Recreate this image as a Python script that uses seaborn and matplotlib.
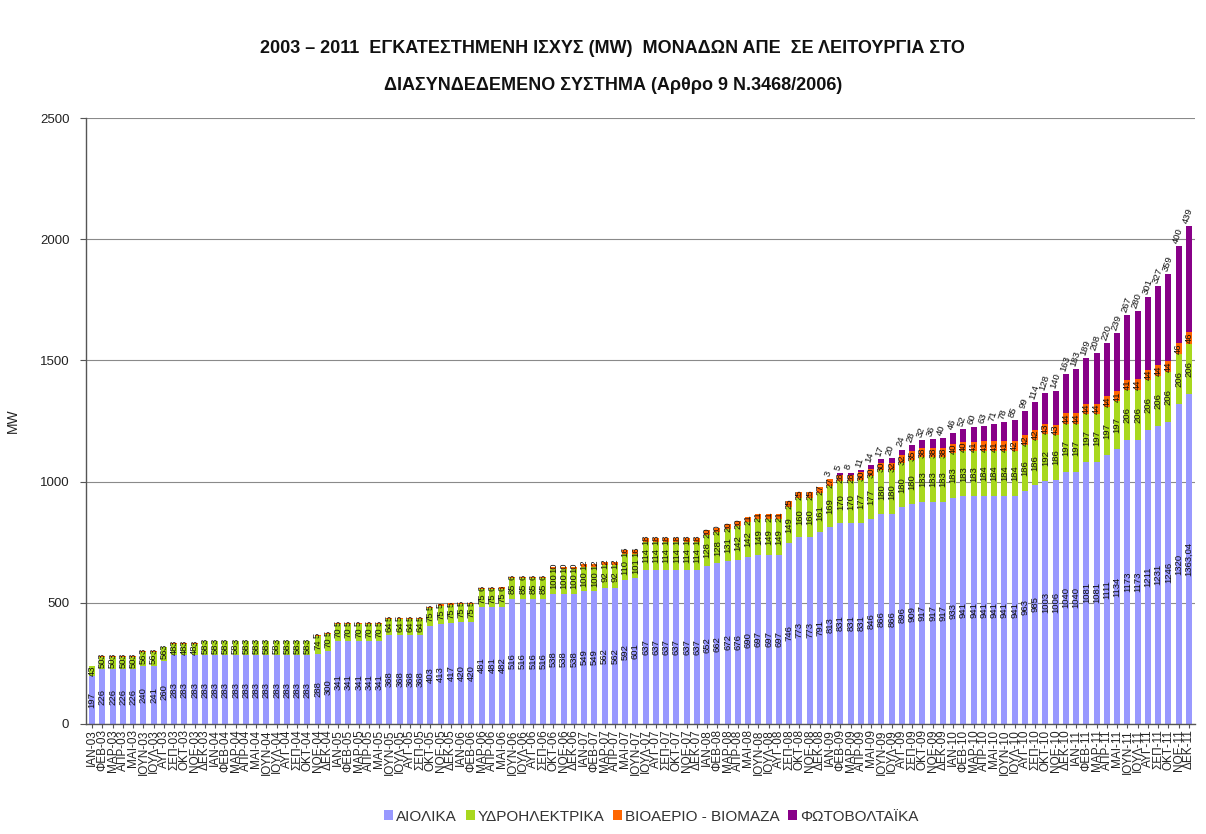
import matplotlib
matplotlib.use("Agg")
import matplotlib.pyplot as plt
from matplotlib.patches import Patch
import numpy as np
import pandas as pd
import seaborn as sns

# ---------------- data ----------------
months = ['ΙΑΝ', 'ΦΕΒ', 'ΜΑΡ', 'ΑΠΡ', 'ΜΑΙ', 'ΙΟΥΝ', 'ΙΟΥΛ', 'ΑΥΓ', 'ΣΕΠ', 'ΟΚΤ', 'ΝΟΕ', 'ΔΕΚ']
years = ['03', '04', '05', '06', '07', '08', '09', '10', '11']
labels = [f'{m}-{y}' for y in years for m in months]

wind = ([197] + [226] * 4 + [240, 241, 260] + [283] * 14 + [288, 300] + [341] * 5 + [368] * 4 +
        [403, 413, 417, 420, 420] + [481, 481, 482] + [516] * 4 + [538] * 3 + [549, 549, 562, 562] +
        [592, 601] + [637] * 6 + [652, 662, 672, 676] + [690, 697, 697, 697] +
        [746, 773, 773, 791, 813] + [831, 831, 831, 846, 866, 866, 896] +
        [909, 917, 917, 917, 933] + [941] * 6 +
        [963, 985, 1003, 1006, 1040, 1040, 1081, 1081, 1111, 1134, 1173, 1173, 1211, 1231, 1246, 1320, 1363.04])

hydro = ([43] + [50] * 4 + [56] * 3 + [48] * 3 + [58] * 11 + [74, 70] + [70] * 5 + [64] * 4 +
         [75] * 5 + [75] * 3 + [85] * 4 + [100] * 3 + [100, 100, 92, 92] + [110, 101] + [114] * 6 +
         [128, 128, 131, 142] + [142, 149, 149, 149] + [149, 160, 160, 161, 169] +
         [170, 170, 177, 177, 180, 180, 180] + [180, 183, 183, 183, 183] + [183, 183, 184, 184, 184, 184] +
         [186, 186, 192, 186] + [197] * 6 + [206] * 7)

bio = ([0] + [3] * 21 + [5] * 16 + [6] * 7 + [10] * 3 + [12] * 4 + [16] * 2 + [18] * 6 +
       [20] * 4 + [21] * 4 + [25] * 3 + [27] * 2 + [28] * 2 + [30] * 3 + [32] * 2 +
       [35, 38, 38, 38] + [40, 40] + [41] * 4 + [42] * 3 + [43] * 2 + [44] * 5 + [41] * 2 +
       [44] * 4 + [46] * 2)

pv = ([0] * 72 + [3, 5, 8, 11, 14, 17, 20, 24, 28, 32, 36, 40, 46, 52, 60, 63, 71, 78, 85, 99,
                  114, 128, 140, 163, 183, 189, 208, 220, 239, 267, 280, 301, 327, 359, 400, 439])

series_names = ['ΑΙΟΛΙΚΑ', 'ΥΔΡΟΗΛΕΚΤΡΙΚΑ', 'ΒΙΟΑΕΡΙΟ - ΒΙΟΜΑΖΑ', 'ΦΩΤΟΒΟΛΤΑΪΚΑ']
colors = ['#9999FF', '#A8D81E', '#FF6600', '#880088']

title1 = '2003 – 2011  ΕΓΚΑΤΕΣΤΗΜΕΝΗ ΙΣΧΥΣ (MW)  ΜΟΝΑΔΩΝ ΑΠΕ  ΣΕ ΛΕΙΤΟΥΡΓΙΑ ΣΤΟ'
title2 = 'ΔΙΑΣΥΝΔΕΔΕΜΕΝΟ ΣΥΣΤΗΜΑ (Αρθρο 9 Ν.3468/2006)'

# ---------------- build ----------------
df = pd.DataFrame({'month': labels, 'wind': wind, 'hydro': hydro, 'bio': bio, 'pv': pv})
df['c1'] = df['wind']
df['c2'] = df['c1'] + df['hydro']
df['c3'] = df['c2'] + df['bio']
df['c4'] = df['c3'] + df['pv']

sns.set_theme(style='white')
plt.rcParams['font.family'] = ['Liberation Sans', 'DejaVu Sans']

fig = plt.figure(figsize=(12.06, 8.34), dpi=100)
ax = fig.add_axes([0.0713, 0.132, 0.9196, 0.7265])

for col, colr in [('c4', colors[3]), ('c3', colors[2]), ('c2', colors[1]), ('c1', colors[0])]:
    sns.barplot(data=df, x='month', y=col, order=labels, color=colr, saturation=1,
                width=0.6, errorbar=None, linewidth=0, ax=ax)

ax.set_xlim(-0.6, len(labels) - 0.4)
ax.set_ylim(0, 2500)
ax.set_yticks(np.arange(0, 2501, 500))
ax.yaxis.grid(True, color='#8a8a8a', lw=0.8)
ax.set_axisbelow(True)
for s in ['top', 'right']:
    ax.spines[s].set_visible(False)
for s in ['left', 'bottom']:
    ax.spines[s].set_color('#555555')
    ax.spines[s].set_linewidth(1.0)

ax.set_xticks(range(len(labels)))
ax.set_xticklabels(labels, rotation=90, fontsize=8.5, color='#222222')
ax.tick_params(axis='x', bottom=True, length=3, width=0.8, pad=1, color='#555555')
ax.tick_params(axis='y', left=True, length=4, width=0.8, labelsize=9.5, color='#555555',
               labelcolor='#222222', pad=8)
ax.set_xlabel('')
ax.set_ylabel('MW', fontsize=10, color='#222222', labelpad=14)


def fmt(v):
    v = float(v)
    return f'{v:.0f}' if v.is_integer() else f'{v:.2f}'.replace('.', ',')


lab_fs = 6.8
for i, r in df.iterrows():
    ax.text(i, r['wind'] / 2, fmt(r['wind']), rotation=90, ha='center', va='center',
            fontsize=lab_fs, color='#111111')
    ax.text(i, r['c1'] + r['hydro'] / 2, fmt(r['hydro']), rotation=90, ha='center', va='center',
            fontsize=lab_fs, color='#111111')
    if r['bio'] > 0:
        ax.text(i, r['c2'] + r['bio'] / 2, fmt(r['bio']), rotation=90, ha='center', va='center',
                fontsize=lab_fs, color='#111111')
    if r['pv'] > 0:
        ax.text(i - 0.3, r['c4'] + 12, fmt(r['pv']), rotation=72, rotation_mode='anchor',
                ha='left', va='center', fontsize=lab_fs, color='#111111')

fig.text(0.508, 0.9424, title1, ha='center', va='center', fontsize=13, fontweight='bold',
         color='#111111')
fig.text(0.508, 0.898, title2, ha='center', va='center', fontsize=13, fontweight='bold',
         color='#111111')

handles = [Patch(facecolor=c, edgecolor='none') for c in colors]
fig.legend(handles, series_names, loc='lower center', bbox_to_anchor=(0.54, -0.004), ncol=4,
           frameon=False, fontsize=11, handlelength=0.6, handleheight=0.6, handletextpad=0.15,
           columnspacing=0.6, labelcolor='#333333')

fig.savefig('out.png', dpi=100)
